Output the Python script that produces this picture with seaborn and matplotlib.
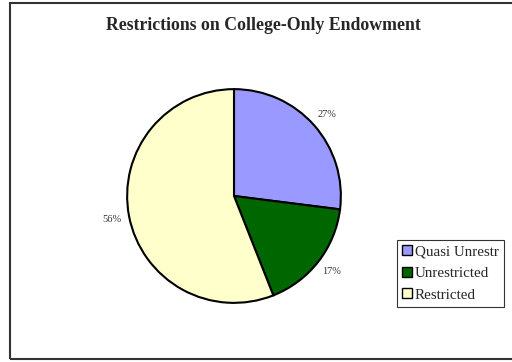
import matplotlib
matplotlib.use("Agg")
import matplotlib.pyplot as plt
import seaborn as sns
from matplotlib.patches import Rectangle, Patch

sns.set_style("white")
plt.rcParams['font.family'] = ['Liberation Serif', 'DejaVu Serif']

title = "Restrictions on College-Only Endowment"
categories = ["Quasi Unrestr", "Unrestricted", "Restricted"]
values = [27, 17, 56]
colors = ["#9999FF", "#006600", "#FFFFCC"]

W, H = 512, 362
fig = plt.figure(figsize=(W / 100, H / 100), dpi=100)

# outer chart frame
fig.patches.append(Rectangle((10 / W, 1 - 359 / H), 1.0, (359 - 3) / H,
                             transform=fig.transFigure, fill=False,
                             edgecolor="#333333", linewidth=1.5))

cx, cy, r = 234, 196, 109
ax = fig.add_axes([(cx - r) / W, (H - cy - r) / H, 2 * r / W, 2 * r / H])
wedges, texts, autotexts = ax.pie(
    values, colors=colors, startangle=90, counterclock=False,
    autopct=lambda p: f"{p:.0f}%", pctdistance=1.16,
    wedgeprops=dict(edgecolor="black", linewidth=1.5),
    textprops=dict(fontsize=7.5, color="#333333"))
ax.set_aspect("equal")
ax.set_xlim(-1.02, 1.02)
ax.set_ylim(-1.02, 1.02)
ax.axis("off")

fig.text(263 / W, 1 - 25 / H, title, ha="center", va="center",
         fontsize=12.8, fontweight="bold")

handles = [Patch(facecolor=c, edgecolor="black", linewidth=1) for c in colors]
leg = fig.legend(handles, categories, loc="upper left",
                 bbox_to_anchor=(397 / W, 1 - 240 / H),
                 frameon=True, fancybox=False, fontsize=10.8,
                 handlelength=0.65, handleheight=0.65, handletextpad=0.2,
                 borderpad=0.35, labelspacing=0.55, borderaxespad=0)
leg.get_frame().set_edgecolor("black")
leg.get_frame().set_linewidth(0.8)

fig.savefig("out.png", dpi=100)
